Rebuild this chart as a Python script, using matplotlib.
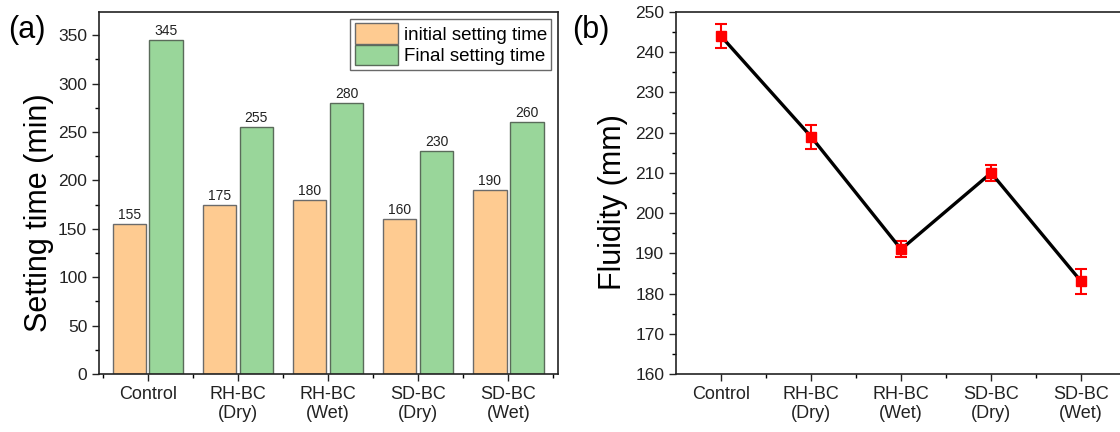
import matplotlib
matplotlib.use("Agg")
import matplotlib.pyplot as plt
import numpy as np
from matplotlib.ticker import MultipleLocator, FixedLocator

plt.rcParams['font.family'] = ['Liberation Sans', 'DejaVu Sans']

categories = ["Control", "RH-BC\n(Dry)", "RH-BC\n(Wet)", "SD-BC\n(Dry)", "SD-BC\n(Wet)"]
initial_time = [155, 175, 180, 160, 190]
final_time = [345, 255, 280, 230, 260]
fluidity = [244, 219, 191, 210, 183]
fluidity_err = [3, 3, 2, 2, 3]

fig = plt.figure(figsize=(11.2, 4.32), dpi=100)
W, H = 1120, 432

def pos(l, t, r, b):
    return [l / W, 1 - b / H, (r - l) / W, (b - t) / H]

# Panel (a)
ax1 = fig.add_axes(pos(99, 12, 558, 374))
x = np.arange(len(categories))
w = 0.37
ax1.bar(x - 0.205, initial_time, w, color="#FECB91", edgecolor="#6b6b6b", linewidth=1.0,
        label="initial setting time")
ax1.bar(x + 0.205, final_time, w, color="#99D69A", edgecolor="#5a6b5a", linewidth=1.0,
        label="Final setting time")
for xi, v in zip(x, initial_time):
    ax1.text(xi - 0.205, v + 2, str(v), ha="center", va="bottom", fontsize=10, color="#222")
for xi, v in zip(x, final_time):
    ax1.text(xi + 0.205, v + 2, str(v), ha="center", va="bottom", fontsize=10, color="#222")
ax1.set_xlim(-0.54, 4.55)
ax1.set_ylim(0, 374)
ax1.set_xticks(x)
ax1.set_xticklabels(categories, fontsize=13, color="#222")
ax1.xaxis.set_minor_locator(FixedLocator(np.arange(-0.5, 5, 1)))
ax1.yaxis.set_major_locator(MultipleLocator(50))
ax1.yaxis.set_minor_locator(MultipleLocator(25))
ax1.tick_params(axis="both", which="major", direction="out", length=5, width=1, labelsize=12.5,
                colors="#222")
ax1.tick_params(axis="x", which="major", labelsize=13)
ax1.tick_params(axis="both", which="minor", direction="out", length=3, width=1)
ax1.set_ylabel("Setting time (min)", fontsize=22, labelpad=3)
ax1.yaxis.label.set_y(0.445)
for s in ax1.spines.values():
    s.set_linewidth(1.2)
    s.set_color("#222")
leg = ax1.legend(loc="upper right", fontsize=13.5, frameon=True, fancybox=False,
                 edgecolor="#444", borderpad=0.25, handlelength=2.3, handleheight=1.3,
                 handletextpad=0.3, labelspacing=0.05, borderaxespad=0.35)
leg.get_frame().set_linewidth(1.0)
fig.text(8 / W, 1 - 30 / H, "(a)", fontsize=22, va="center", ha="left")

# Panel (b)
ax2 = fig.add_axes(pos(676, 12, 1128, 374))
ax2.errorbar(x, fluidity, yerr=fluidity_err, color="black", linewidth=2.4,
             marker="s", markersize=7, markerfacecolor="red", markeredgecolor="red",
             ecolor="red", elinewidth=1.5, capsize=4, capthick=1.5, zorder=3)
ax2.set_xlim(-0.5, 4.52)
ax2.set_ylim(160, 250)
ax2.set_xticks(x)
ax2.set_xticklabels(categories, fontsize=13, color="#222")
ax2.xaxis.set_minor_locator(FixedLocator(np.arange(0.5, 5, 1)))
ax2.yaxis.set_major_locator(MultipleLocator(10))
ax2.yaxis.set_minor_locator(MultipleLocator(5))
ax2.tick_params(axis="both", which="major", direction="out", length=5, width=1, labelsize=12.5,
                colors="#222")
ax2.tick_params(axis="x", which="major", labelsize=13)
ax2.tick_params(axis="both", which="minor", direction="out", length=3, width=1)
ax2.set_ylabel("Fluidity (mm)", fontsize=22, labelpad=5)
ax2.yaxis.label.set_y(0.475)
for s in ax2.spines.values():
    s.set_linewidth(1.2)
    s.set_color("#222")
fig.text(572 / W, 1 - 30 / H, "(b)", fontsize=22, va="center", ha="left")

fig.savefig("out.png", dpi=100)
